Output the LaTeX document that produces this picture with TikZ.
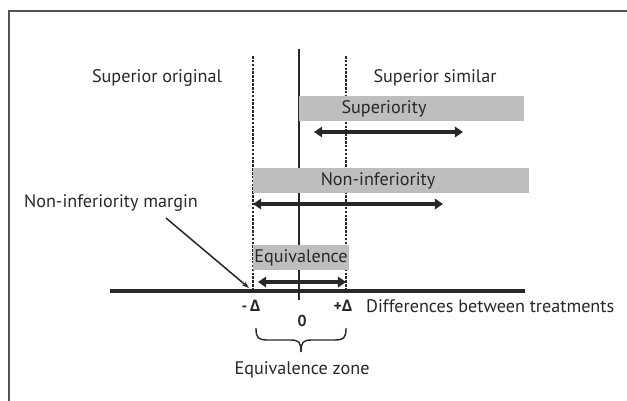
\documentclass[tikz,border=0pt]{standalone}
\usepackage{fontspec}
\setmainfont{PT Sans}
\newfontfamily\grk{Open Sans}
\usetikzlibrary{arrows.meta}
\definecolor{barfill}{RGB}{190,190,192}
\definecolor{ink}{RGB}{40,40,40}
\tikzset{
  bar/.style={fill=barfill,draw=none},
  rangearrow/.style={ink,line width=3.2pt,{Triangle[length=7pt,width=9pt]}-{Triangle[length=7pt,width=9pt]}},
  lbl/.style={ink,font=\fontsize{15.5}{17}\selectfont,inner sep=0pt},
  num/.style={ink,font=\bfseries\fontsize{13.5}{15}\selectfont,inner sep=0pt},
  marg/.style={ink,line width=2.4pt,dash pattern=on 2.2pt off 1.1pt}
}
\begin{document}
\begin{tikzpicture}[x=0.03cm,y=-0.03cm]
\useasboundingbox (0,0) rectangle (627,401);
\draw[ink!80,line width=1.3pt] (9,401)--(9,11)--(627,11);
% lines
\draw[ink,line width=1.8pt] (299,49)--(299,300);
\draw[marg] (253,56)--(253,291);
\draw[marg] (346,56)--(346,291);
\draw[ink,line width=3.4pt] (110,291)--(525,291);
% bars
\path[bar] (299,96) rectangle (524,121);
\path[bar] (253,168) rectangle (529,193);
\path[bar] (253,245) rectangle (349,270);
% labels
\node[lbl] (suporig) at (157,78) {Superior original};
\node[lbl] (supsim) at (435,78) {Superior similar};
\node[lbl] (supty) at (384,109) {Superiority};
\node[lbl] (noninf) at (378,181) {Non-inferiority};
\node[lbl] (equiv) at (301,258) {Equivalence};
\node[lbl] (margin) at (111,203) {Non-inferiority margin};
\node[num] (mdelta) at (251,306) {-\,{\grk\bfseries Δ}};
\node[num] (pdelta) at (343,306) {+{\grk\bfseries Δ}};
\node[num] (zero) at (302,321) {0};
\node[lbl,anchor=west] (diff) at (366,306) {Differences between treatments};
\node[lbl] (zone) at (302,370) {Equivalence zone};
% ranges
\coordinate (s1) at (314,132); \coordinate (s2) at (463,132);
\coordinate (n1) at (253,204); \coordinate (n2) at (443,204);
\coordinate (e1) at (258,282); \coordinate (e2) at (346,282);
\draw[rangearrow] (s1)--(s2);
\draw[rangearrow] (n1)--(n2);
\draw[rangearrow] (e1)--(e2);
% pointer
\coordinate (mtail) at (166,218); \coordinate (mtip) at (249,288);
\draw[ink,line width=1.3pt,-{Stealth[length=6pt,width=4pt]}] (mtail)--(mtip);
% brace
\draw[ink,line width=1.2pt] (256,328) .. controls (256,338) and (258,340) .. (268,340) -- (290,340) .. controls (299,340) and (301,342) .. (301,352);
\draw[ink,line width=1.2pt] (346,328) .. controls (346,338) and (344,340) .. (334,340) -- (312,340) .. controls (303,340) and (301,342) .. (301,352);
\end{tikzpicture}
\end{document}
